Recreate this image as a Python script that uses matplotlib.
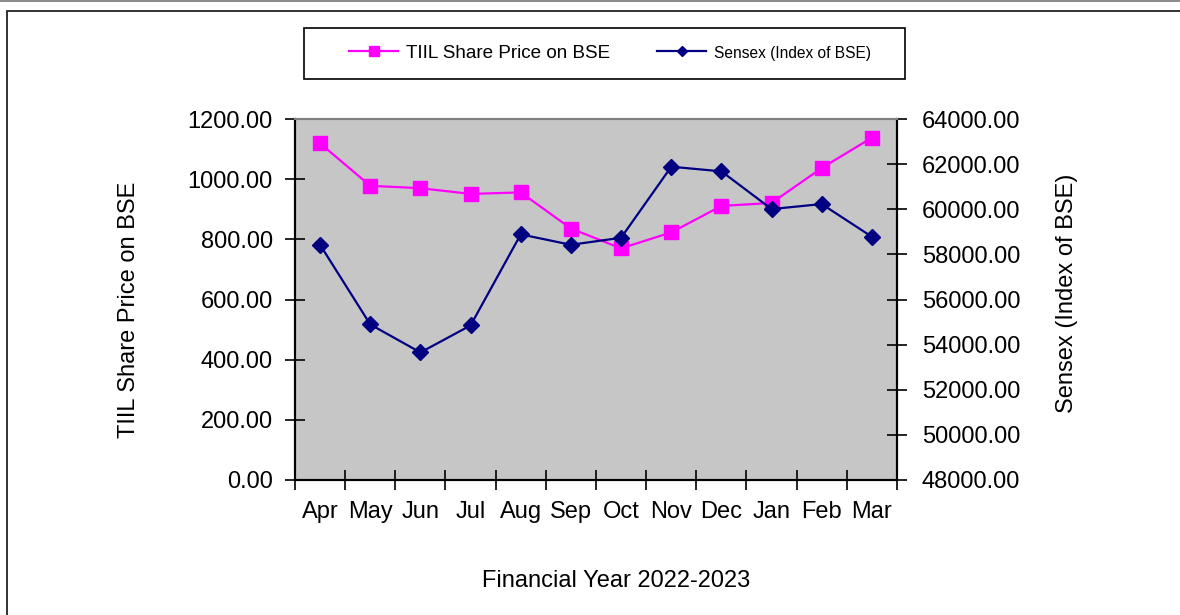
import numpy as np
import matplotlib
matplotlib.use("Agg")
import matplotlib.pyplot as plt
from matplotlib.lines import Line2D
from matplotlib.patches import Rectangle

plt.rcParams['font.family'] = ['Liberation Sans', 'DejaVu Sans']

months = ['Apr', 'May', 'Jun', 'Jul', 'Aug', 'Sep', 'Oct', 'Nov', 'Dec', 'Jan', 'Feb', 'Mar']
tiil_price = [1119, 978, 970, 951, 956, 836, 770, 823, 911, 921, 1037, 1138]
sensex = [58425, 54895, 53653, 54851, 58887, 58425, 58736, 61885, 61680, 60008, 60230, 58780]
left_ticks = [0, 200, 400, 600, 800, 1000, 1200]
right_ticks = [48000, 50000, 52000, 54000, 56000, 58000, 60000, 62000, 64000]

W, H = 1180, 615
fig = plt.figure(figsize=(W / 100, H / 100), dpi=100)

# outer frame like the spreadsheet chart border
fig.add_artist(Rectangle((7 / W, -0.1), 1.2, 1 - 11 / H + 0.1, transform=fig.transFigure,
                         fill=False, edgecolor='#222222', lw=1.3))
fig.add_artist(Line2D([0, 1], [1 - 0.6 / H] * 2, transform=fig.transFigure, color='#777777', lw=1.2))

ax = fig.add_axes([295 / W, 1 - 480 / H, 602 / W, 361 / H])
ax.set_facecolor('#C6C6C6')
x = np.arange(len(months))
ax.plot(x, tiil_price, color='#FF00FF', lw=1.6, marker='s', markersize=9.5, zorder=3)
ax.set_xlim(-0.5, len(months) - 0.5)
ax.set_ylim(left_ticks[0], left_ticks[-1])
ax.set_yticks(left_ticks)
ax.set_yticklabels([f'{v:.2f}' for v in left_ticks])

ax.set_xticks(np.arange(len(months) + 1) - 0.5)
ax.set_xticklabels([''] * (len(months) + 1))
ax.set_xticks(x, minor=True)
ax.set_xticklabels(months, minor=True)
ax.tick_params(axis='x', which='minor', length=0, pad=15, labelsize=17)
ax.tick_params(axis='x', which='major', direction='inout', length=14, width=1.2)
ax.tick_params(axis='y', direction='inout', length=14, width=1.2, pad=9, labelsize=17)

ax2 = ax.twinx()
ax2.plot(x, sensex, color='#000080', lw=1.6, marker='D', markersize=8.5, zorder=3)
ax2.set_ylim(right_ticks[0], right_ticks[-1])
ax2.set_yticks(right_ticks)
ax2.set_yticklabels([f'{v:.2f}' for v in right_ticks])
ax2.tick_params(axis='y', direction='inout', length=14, width=1.2, pad=11, labelsize=17)

for a in (ax, ax2):
    for s in ('left', 'right', 'bottom'):
        a.spines[s].set_color('black')
        a.spines[s].set_linewidth(1.5)
    a.spines['top'].set_color('#808080')
    a.spines['top'].set_linewidth(1.5)

fig.text(129 / W, 1 - 310 / H, 'TIIL Share Price on BSE', rotation=90, ha='center', va='center', fontsize=17)
fig.text(1067 / W, 1 - 293.5 / H, 'Sensex (Index of BSE)', rotation=90, ha='center', va='center', fontsize=17)
fig.text(616 / W, 1 - 581 / H, 'Financial Year 2022-2023', ha='center', va='center', fontsize=17)

# legend box
fig.add_artist(Rectangle((304 / W, 1 - 79 / H), 601 / W, 51 / H, transform=fig.transFigure,
                         fill=False, edgecolor='black', lw=1.2))
h1 = Line2D([], [], color='#FF00FF', lw=1.6, marker='s', markersize=7)
h2 = Line2D([], [], color='#000080', lw=1.6, marker='D', markersize=5)
leg = fig.legend([h1, h2], ['TIIL Share Price on BSE', 'Sensex (Index of BSE)'],
                 loc='center', bbox_to_anchor=(610 / W, 1 - 53.5 / H), ncol=2, frameon=False,
                 fontsize=13.6, handlelength=2.6, handletextpad=0.4, columnspacing=2.5)
leg.get_texts()[1].set_fontsize(11.2)

fig.savefig('out.png', dpi=100)
